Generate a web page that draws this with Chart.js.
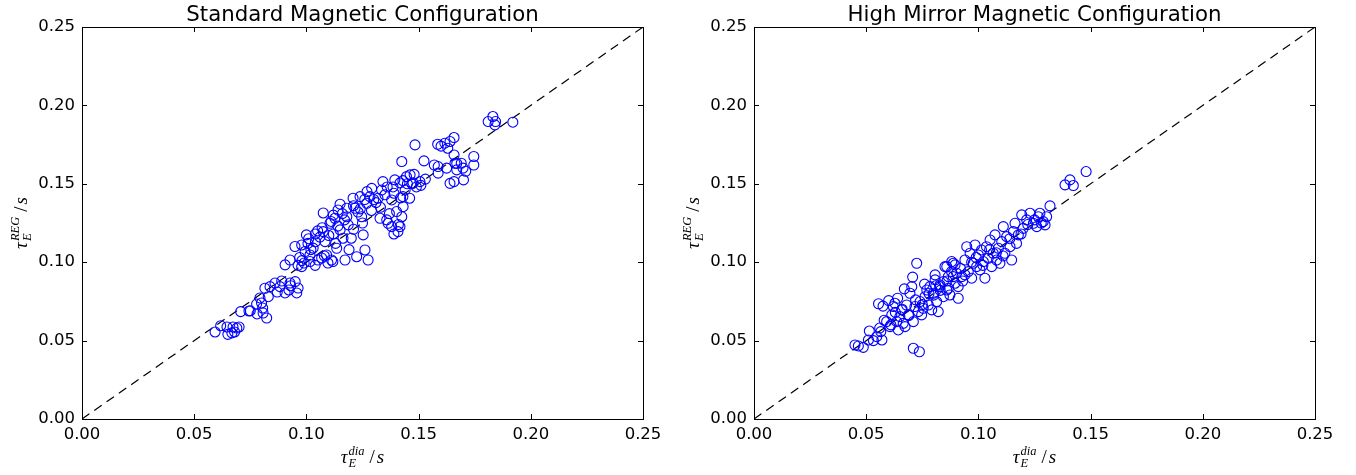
<!DOCTYPE html>
<html><head><meta charset="utf-8">
<script src="https://cdn.jsdelivr.net/npm/chart.js@4"></script>
<style>
html,body{margin:0;padding:0;background:#fff;}
#wrap{position:relative;width:1356px;height:475px;overflow:hidden;}
.c{position:absolute;top:0;width:678px;height:475px;}
</style></head><body>
<div id="wrap">
<div class="c" style="left:0"><canvas id="c1"></canvas></div>
<div class="c" style="left:678px"><canvas id="c2"></canvas></div>
</div>
<script>
// ---------- data ----------
const tickValues = [0, 0.05, 0.10, 0.15, 0.20, 0.25];
const tickLabels = ['0.00', '0.05', '0.10', '0.15', '0.20', '0.25'];
const titles = ['Standard Magnetic Configuration', 'High Mirror Magnetic Configuration'];
const diagX = [0, 0.25];
const diagY = [0, 0.25];

const stdDia = [
0.0593,0.0618,0.0646,0.065,0.0668,0.0673,0.068,0.070,
0.0707,0.0744,0.0778,0.078,0.080,0.0805,0.0807,0.0823,0.0793,
0.0815,0.0838,0.086,0.0882,0.0905,0.0922,0.0927,0.095,0.0963,0.0957,
0.0905,0.0927,0.0979,0.099,0.1016,0.1068,0.1096,0.1118,
0.0949,0.0963,0.0979,0.0994,0.100,0.1007,0.1016,0.103,0.1039,0.1052,0.1075,0.1075,0.1083,0.109,0.1105,0.1112,0.1127,0.1135,0.1141,0.115,0.1163,0.1172,0.118,0.1186,0.120,0.1208,0.1217,0.1224,0.1239,0.1246,0.1253,0.1261,0.1269,0.1275,0.1283,0.1291,0.1319,0.1328,0.1335,0.1341,0.1358,0.1364,0.138,0.138,0.1386,0.1394,0.1402,0.1408,0.1417,0.1425,0.1431,0.1446,
0.104,0.106,0.112,0.114,0.117,0.121,0.123,0.126,0.131,0.135,0.108,0.113,0.119,0.102,0.098,0.105,0.111,0.116,0.125,0.129,0.139,0.141,0.137,0.142,0.144,0.147,0.149,
0.1425,0.1484,0.1524,0.1462,0.1417,0.1475,0.1506,0.143,0.146,0.1585,0.1617,0.164,0.1658,0.163,0.1587,0.1587,0.1625,0.1658,0.1662,0.167,0.169,0.1698,0.170,0.164,0.1658,0.1746,0.1746,0.1831,0.1843,0.184,0.181,0.192,
0.097,0.101,0.104,0.107,0.110,0.112,0.115,0.118,0.121,0.124,0.127,0.130,0.133,0.136,0.139,0.143,0.145,0.148,0.151,0.153,0.157,0.160,0.167,0.171,0.087,0.089,0.093,0.075,0.083,0.069
];
const stdReg = [
0.0555,0.0595,0.0587,0.054,0.0549,0.0587,0.0555,0.0587,
0.0685,0.0689,0.0733,0.067,0.074,0.0708,0.0676,0.0644,0.0772,
0.0834,0.0844,0.0867,0.0844,0.0804,0.0823,0.0867,0.0876,0.0835,0.0804,
0.0983,0.1014,0.0972,0.0995,0.1004,0.1027,0.0995,0.1004,
0.110,0.098,0.111,0.1068,0.1174,0.112,0.1046,0.109,0.098,0.1014,0.1314,0.1195,0.1131,0.1046,0.1248,0.1014,0.128,0.1089,0.1333,0.1206,0.1153,0.1014,0.1344,0.1238,0.1153,0.1408,0.1344,0.1035,0.1418,0.129,0.1174,0.1078,0.1376,0.1014,0.1418,0.1471,0.1408,0.128,0.146,0.1514,0.127,0.1248,0.1397,0.1227,0.148,0.1525,0.1323,0.1195,0.1227,0.129,0.1354,0.1546,
0.113,0.116,0.118,0.123,0.127,0.121,0.132,0.140,0.138,0.143,0.104,0.112,0.108,0.108,0.101,0.120,0.126,0.131,0.125,0.133,0.118,0.124,0.131,0.141,0.146,0.150,0.148,
0.1642,0.1748,0.1646,0.1557,0.1506,0.1506,0.1514,0.1418,0.1408,0.1752,0.1759,0.177,0.1795,0.1727,0.161,0.1568,0.16,0.1684,0.1631,0.1589,0.1631,0.16,0.1525,0.1503,0.1514,0.1674,0.162,0.1929,0.1897,0.1876,0.1897,0.1893,
0.103,0.115,0.118,0.122,0.117,0.130,0.137,0.129,0.136,0.134,0.145,0.140,0.135,0.148,0.144,0.152,0.150,0.156,0.149,0.153,0.162,0.174,0.163,0.158,0.081,0.088,0.085,0.069,0.078,0.058
];

const hmDia = [
0.045,0.0465,0.0487,0.051,0.0532,0.0514,0.0547,0.0565,0.057,0.0591,0.0606,0.0614,0.0621,0.0628,0.0636,0.0643,0.065,0.0658,0.0665,0.0673,0.068,0.0688,0.0695,0.0703,0.071,0.0717,0.0725,0.0732,0.074,0.0747,0.0754,0.0762,0.077,0.0777,0.0784,0.0792,0.0799,0.0807,0.0814,0.0821,0.0829,0.0844,0.0851,0.0859,0.0866,0.0873,0.0888,0.0896,0.0903,0.091,0.071,0.0737,0.0707,0.067,0.0555,0.0575,0.060,
0.0807,0.0829,0.0844,0.0859,0.0866,0.0881,0.0888,0.0896,0.091,0.0926,0.094,0.0948,0.0955,0.0963,0.097,0.0977,0.0985,0.0992,0.100,0.1007,0.1014,0.1022,0.1029,0.1036,0.1044,0.1052,0.1059,0.1066,0.1074,0.1081,0.1089,0.1096,0.1104,0.1111,0.1118,0.1126,0.1141,0.1148,0.1156,0.1163,0.117,0.1178,0.1193,0.120,0.1215,0.123,0.1245,0.126,0.1267,0.1274,0.1289,0.1297,0.1304,0.1319,
0.1386,0.1408,0.1423,0.148,
0.056,0.058,0.061,0.063,0.066,0.069,0.072,0.075,0.078,0.080,0.083,0.086,0.088,0.092,0.094,0.097,0.099,0.102,0.105,0.108,0.111,0.114,0.119,0.122,0.125,0.128,0.064,0.076,0.081,0.093
];
const hmReg = [
0.0472,0.0466,0.0457,0.0504,0.050,0.0561,0.0525,0.0557,0.0504,0.0621,0.0589,0.0664,0.0717,0.0738,0.0621,0.0568,0.0653,0.0696,0.061,0.0589,0.0727,0.0664,0.0802,0.0844,0.0621,0.0717,0.0993,0.0685,0.0749,0.0664,0.0706,0.078,0.0823,0.0727,0.0844,0.0696,0.0802,0.0887,0.0749,0.0685,0.0844,0.078,0.0972,0.0823,0.0908,0.0791,0.0993,0.0866,0.093,0.077,0.0451,0.0429,0.0905,0.083,0.0735,0.072,0.0755,
0.0919,0.0855,0.0876,0.0972,0.0834,0.1004,0.0908,0.0983,0.0844,0.0908,0.1014,0.1099,0.094,0.1057,0.0898,0.0993,0.111,0.0972,0.1046,0.0951,0.1078,0.1004,0.0898,0.1099,0.1025,0.1142,0.0972,0.1057,0.1174,0.1014,0.1089,0.0993,0.1131,0.1227,0.1057,0.1163,0.1099,0.1014,0.1195,0.1248,0.112,0.1174,0.1302,0.1216,0.127,0.1312,0.1248,0.1227,0.129,0.1312,0.1259,0.1238,0.129,0.1359,
0.1493,0.1525,0.1489,0.1578,
0.058,0.063,0.060,0.068,0.070,0.066,0.076,0.073,0.080,0.079,0.082,0.088,0.094,0.096,0.092,0.100,0.103,0.098,0.108,0.106,0.104,0.115,0.118,0.124,0.127,0.125,0.077,0.086,0.085,0.088
];

// ---------- drawing helpers ----------
const TICK_FONT = {family: '"DejaVu Sans", sans-serif', size: 16.5};

function drawMath(ctx, cx, cy, base, sub, sup, rotate) {
  ctx.save();
  ctx.translate(cx, cy);
  if (rotate) ctx.rotate(-Math.PI / 2);
  const bs = 19, ss = 12.5;
  const FI = s => `italic ${s}px "Liberation Serif", serif`;
  const FN = s => `${s}px "Liberation Serif", serif`;
  ctx.font = FI(bs); const wb = ctx.measureText(base).width;
  ctx.font = FI(ss); const ws = Math.max(ctx.measureText(sub).width, ctx.measureText(sup).width);
  ctx.font = FN(bs); const wsl = ctx.measureText('/').width;
  ctx.font = FI(bs); const wsv = ctx.measureText('s').width;
  const total = wb + 1 + ws + 5 + wsl + 2 + wsv;
  let x = -total / 2;
  ctx.fillStyle = '#000';
  ctx.textBaseline = 'alphabetic';
  ctx.textAlign = 'left';
  ctx.font = FI(bs); ctx.fillText(base, x, 5); x += wb + 1;
  ctx.font = FI(ss); ctx.fillText(sup, x, -3); ctx.fillText(sub, x, 9); x += ws + 5;
  ctx.font = FN(bs); ctx.fillText('/', x, 5); x += wsl + 2;
  ctx.font = FI(bs); ctx.fillText('s', x, 5);
  ctx.restore();
}

function framePlugin(title, yLabelX) {
  return {
    id: 'frame',
    afterDatasetsDraw(chart) {
      const {ctx, chartArea: a, scales} = chart;
      ctx.save();
      ctx.strokeStyle = '#000';
      ctx.lineWidth = 1;
      ctx.strokeRect(Math.round(a.left) + 0.5, Math.round(a.top) + 0.5,
                     Math.round(a.right - a.left), Math.round(a.bottom - a.top));
      const tl = 5;
      ctx.beginPath();
      tickValues.forEach(v => {
        const px = Math.round(scales.x.getPixelForValue(v)) + 0.5;
        ctx.moveTo(px, a.bottom); ctx.lineTo(px, a.bottom - tl);
        ctx.moveTo(px, a.top); ctx.lineTo(px, a.top + tl);
        const py = Math.round(scales.y.getPixelForValue(v)) + 0.5;
        ctx.moveTo(a.left, py); ctx.lineTo(a.left + tl, py);
        ctx.moveTo(a.right, py); ctx.lineTo(a.right - tl, py);
      });
      ctx.stroke();
      // title
      ctx.fillStyle = '#000';
      ctx.font = '21.3px "DejaVu Sans", sans-serif';
      ctx.textAlign = 'center';
      ctx.textBaseline = 'alphabetic';
      ctx.fillText(title, (a.left + a.right) / 2, 21);
      ctx.restore();
      drawMath(ctx, (a.left + a.right) / 2, 458, '\u03C4', 'E', 'dia', false);
      drawMath(ctx, yLabelX, (a.top + a.bottom) / 2, '\u03C4', 'E', 'REG', true);
    }
  };
}

function makeChart(id, dia, reg, title, leftW, rightPad, yLabelX) {
  const pts = dia.map((d, i) => ({x: d, y: reg[i]}));
  const diag = diagX.map((d, i) => ({x: d, y: diagY[i]}));
  return new Chart(document.getElementById(id), {
    type: 'scatter',
    data: {
      datasets: [
        {
          type: 'line', data: diag, borderColor: '#000', borderWidth: 1.2,
          borderDash: [9, 6], pointRadius: 0, fill: false, order: 2
        },
        {
          data: pts, pointStyle: 'circle', pointRadius: 5,
          borderColor: '#0000ff', backgroundColor: 'rgba(0,0,0,0)', borderWidth: 1.1, order: 1
        }
      ]
    },
    options: {
      responsive: true, maintainAspectRatio: false, animation: false,
      layout: {padding: {left: 0, top: 27, right: rightPad, bottom: 0}},
      plugins: {legend: {display: false}, title: {display: false}, tooltip: {enabled: false}},
      scales: {
        x: {
          type: 'linear', min: 0, max: 0.25,
          afterBuildTicks: s => { s.ticks = tickValues.map(v => ({value: v})); },
          afterFit: s => { s.height = 56; },
          ticks: {
            callback: (v) => tickLabels[tickValues.findIndex(t => Math.abs(t - v) < 1e-9)],
            font: TICK_FONT, color: '#000', padding: -2, maxRotation: 0, autoSkip: false
          },
          grid: {display: false}, border: {display: false}
        },
        y: {
          type: 'linear', min: 0, max: 0.25,
          afterBuildTicks: s => { s.ticks = tickValues.map(v => ({value: v})); },
          afterFit: s => { s.width = leftW; },
          ticks: {
            callback: (v) => tickLabels[tickValues.findIndex(t => Math.abs(t - v) < 1e-9)],
            font: TICK_FONT, color: '#000', padding: -1, autoSkip: false
          },
          grid: {display: false}, border: {display: false}
        }
      }
    },
    plugins: [framePlugin(title, yLabelX)]
  });
}

makeChart('c1', stdDia, stdReg, titles[0], 82, 35, 22);
makeChart('c2', hmDia, hmReg, titles[1], 76, 41, 16);
</script>
</body></html>
